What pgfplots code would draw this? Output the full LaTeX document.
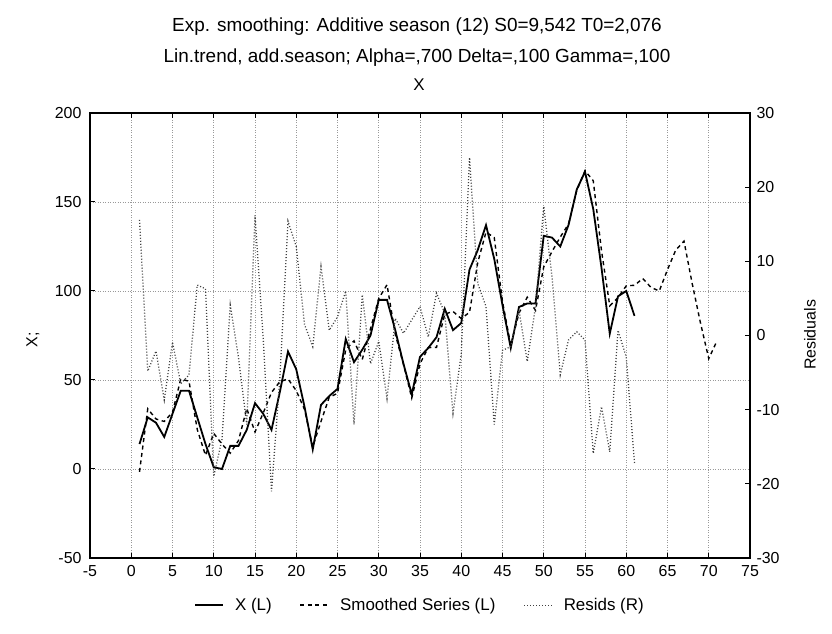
\documentclass[border=0pt]{standalone}
\usepackage{pgfplots}
\usepackage{pgfplotstable}
\pgfplotsset{compat=1.18}
\usepackage{fontspec}
\setmainfont{Liberation Sans}

\pgfplotstableread{
t X
1 14
2 29
3 26
4 18
5 31
6 44
7 44
8 29
9 14
10 1
11 0
12 13
13 13
14 22
15 37
16 31
17 22
18 43
19 66
20 56
21 35
22 11
23 36
24 41
25 45
26 73
27 60
28 67
29 75
30 95
31 95
32 78
33 59
34 42
35 63
36 68
37 74
38 90
39 78
40 82
41 112
42 123
43 137
44 118
45 92
46 68
47 91
48 93
49 93
50 131
51 130
52 125
53 137
54 157
55 167
56 146
57 113
58 76
59 97
60 100
61 86
}\tabX

\pgfplotstableread{
t S
1 -1.6
2 33.8
3 28.1
4 26.7
5 31.9
6 50.5
7 49.3
8 22.2
9 7.7
10 20
11 14
12 8.9
13 16
14 34
15 20.8
16 31.5
17 43
18 49
19 50.6
20 44
21 33.5
22 12.5
23 26.7
24 40.3
25 42.5
26 67
27 72
28 61.5
29 78.8
30 95.8
31 103.5
32 75.7
33 58.7
34 39.9
35 59.1
36 68.2
37 68.3
38 87
39 88.5
40 84.5
41 88
42 116
43 133.1
44 130
45 94
46 69.5
47 87.6
48 96.5
49 89.1
50 113.6
51 122.1
52 130.3
53 137.6
54 156.5
55 167.6
56 161.9
57 122.6
58 91.7
59 96.3
60 102.9
61 103.2
62 107
63 102
64 100
65 112
66 123
67 128
68 104
69 82
70 62
71 72
}\tabS

\pgfplotstableread{
t R
1 15.6
2 -4.8
3 -2.1
4 -8.7
5 -0.9
6 -6.5
7 -5.3
8 6.8
9 6.3
10 -19.0
11 -14
12 4.1
13 -3
14 -12
15 16.2
16 -0.5
17 -21
18 -6
19 15.4
20 12
21 1.5
22 -1.5
23 9.3
24 0.7
25 2.5
26 6
27 -12
28 5.5
29 -3.8
30 -0.8
31 -8.5
32 2.3
33 0.3
34 2.1
35 3.9
36 -0.2
37 5.7
38 3
39 -10.5
40 -2.5
41 24
42 7
43 3.9
44 -12
45 -2
46 -1.5
47 3.4
48 -3.5
49 3.9
50 17.4
51 7.9
52 -5.3
53 -0.6
54 0.5
55 -0.6
56 -15.9
57 -9.6
58 -15.7
59 0.7
60 -2.9
61 -17.2
}\tabR

\begin{document}
\begin{tikzpicture}[x=1bp,y=1bp]
\useasboundingbox (0,0) rectangle (832,634);
\tikzset{resid/.style={color=black!75, line width=1.3bp, dash pattern=on 1bp off 2bp}}
\begin{axis}[
  at={(90bp,76bp)}, anchor=south west,
  scale only axis, width=660bp, height=445bp,
  xmin=-5, xmax=75, ymin=-50, ymax=200,
  xtick={-5,0,...,75}, ytick={-50,0,...,200},
  tick align=inside, xtick pos=both, ytick pos=left,
  major tick length=5bp,
  tick style={black, line width=1bp},
  grid=major, grid style={color=black!40, line width=0.8bp, dash pattern=on 0.9bp off 1.6bp},
  axis line style={line width=1.6bp},
  ticklabel style={font=\fontsize{16}{18}\selectfont},
  /pgf/number format/assume math mode=true,
  x tick label style={yshift=-4bp},
  y tick label style={xshift=-5bp},
  legend columns=3,
  legend style={draw=none, fill=none, at={(0.5,-0.106)}, anchor=center,
    font=\fontsize{17}{19}\selectfont,
    /tikz/every odd column/.append style={column sep=9bp},
    /tikz/every even column/.append style={column sep=26bp}},
  legend image code/.code={\draw[#1] (0bp,0bp) -- (28bp,0bp);},
  legend cell align=left,
]
\addplot[black, line width=1.8bp] table[x=t,y=X] {\tabX};
\addlegendentry{X (L)}
\addplot[black, line width=1.4bp, dash pattern=on 4bp off 3.5bp] table[x=t,y=S] {\tabS};
\addlegendentry{Smoothed Series (L)}
\addlegendimage{resid}
\addlegendentry{Resids (R)}
\end{axis}
\begin{axis}[
  at={(90bp,76bp)}, anchor=south west,
  scale only axis, width=660bp, height=445bp,
  xmin=-5, xmax=75, ymin=-30, ymax=30,
  axis y line*=right, axis x line=none,
  ytick={-30,-20,...,30},
  tick align=inside, major tick length=5bp,
  tick style={black, line width=1bp},
  axis line style={line width=1.6bp},
  ticklabel style={font=\fontsize{16}{18}\selectfont},
  /pgf/number format/assume math mode=true,
  y tick label style={xshift=3bp},
]
\addplot[resid] table[x=t,y=R] {\tabR};
\end{axis}
\node[font=\fontsize{19}{21}\selectfont] at (417,607) {Exp. smoothing: Additive season (12) S0=9,542 T0=2,076};
\node[font=\fontsize{19}{21}\selectfont] at (417,576) {Lin.trend, add.season; Alpha=,700 Delta=,100 Gamma=,100};
\node[font=\fontsize{17}{19}\selectfont] at (419,549) {X};
\node[font=\fontsize{16}{18}\selectfont, rotate=90] at (33,294) {X;};
\node[font=\fontsize{16}{18}\selectfont, rotate=90] at (810,299) {Residuals};
\end{tikzpicture}
\end{document}
